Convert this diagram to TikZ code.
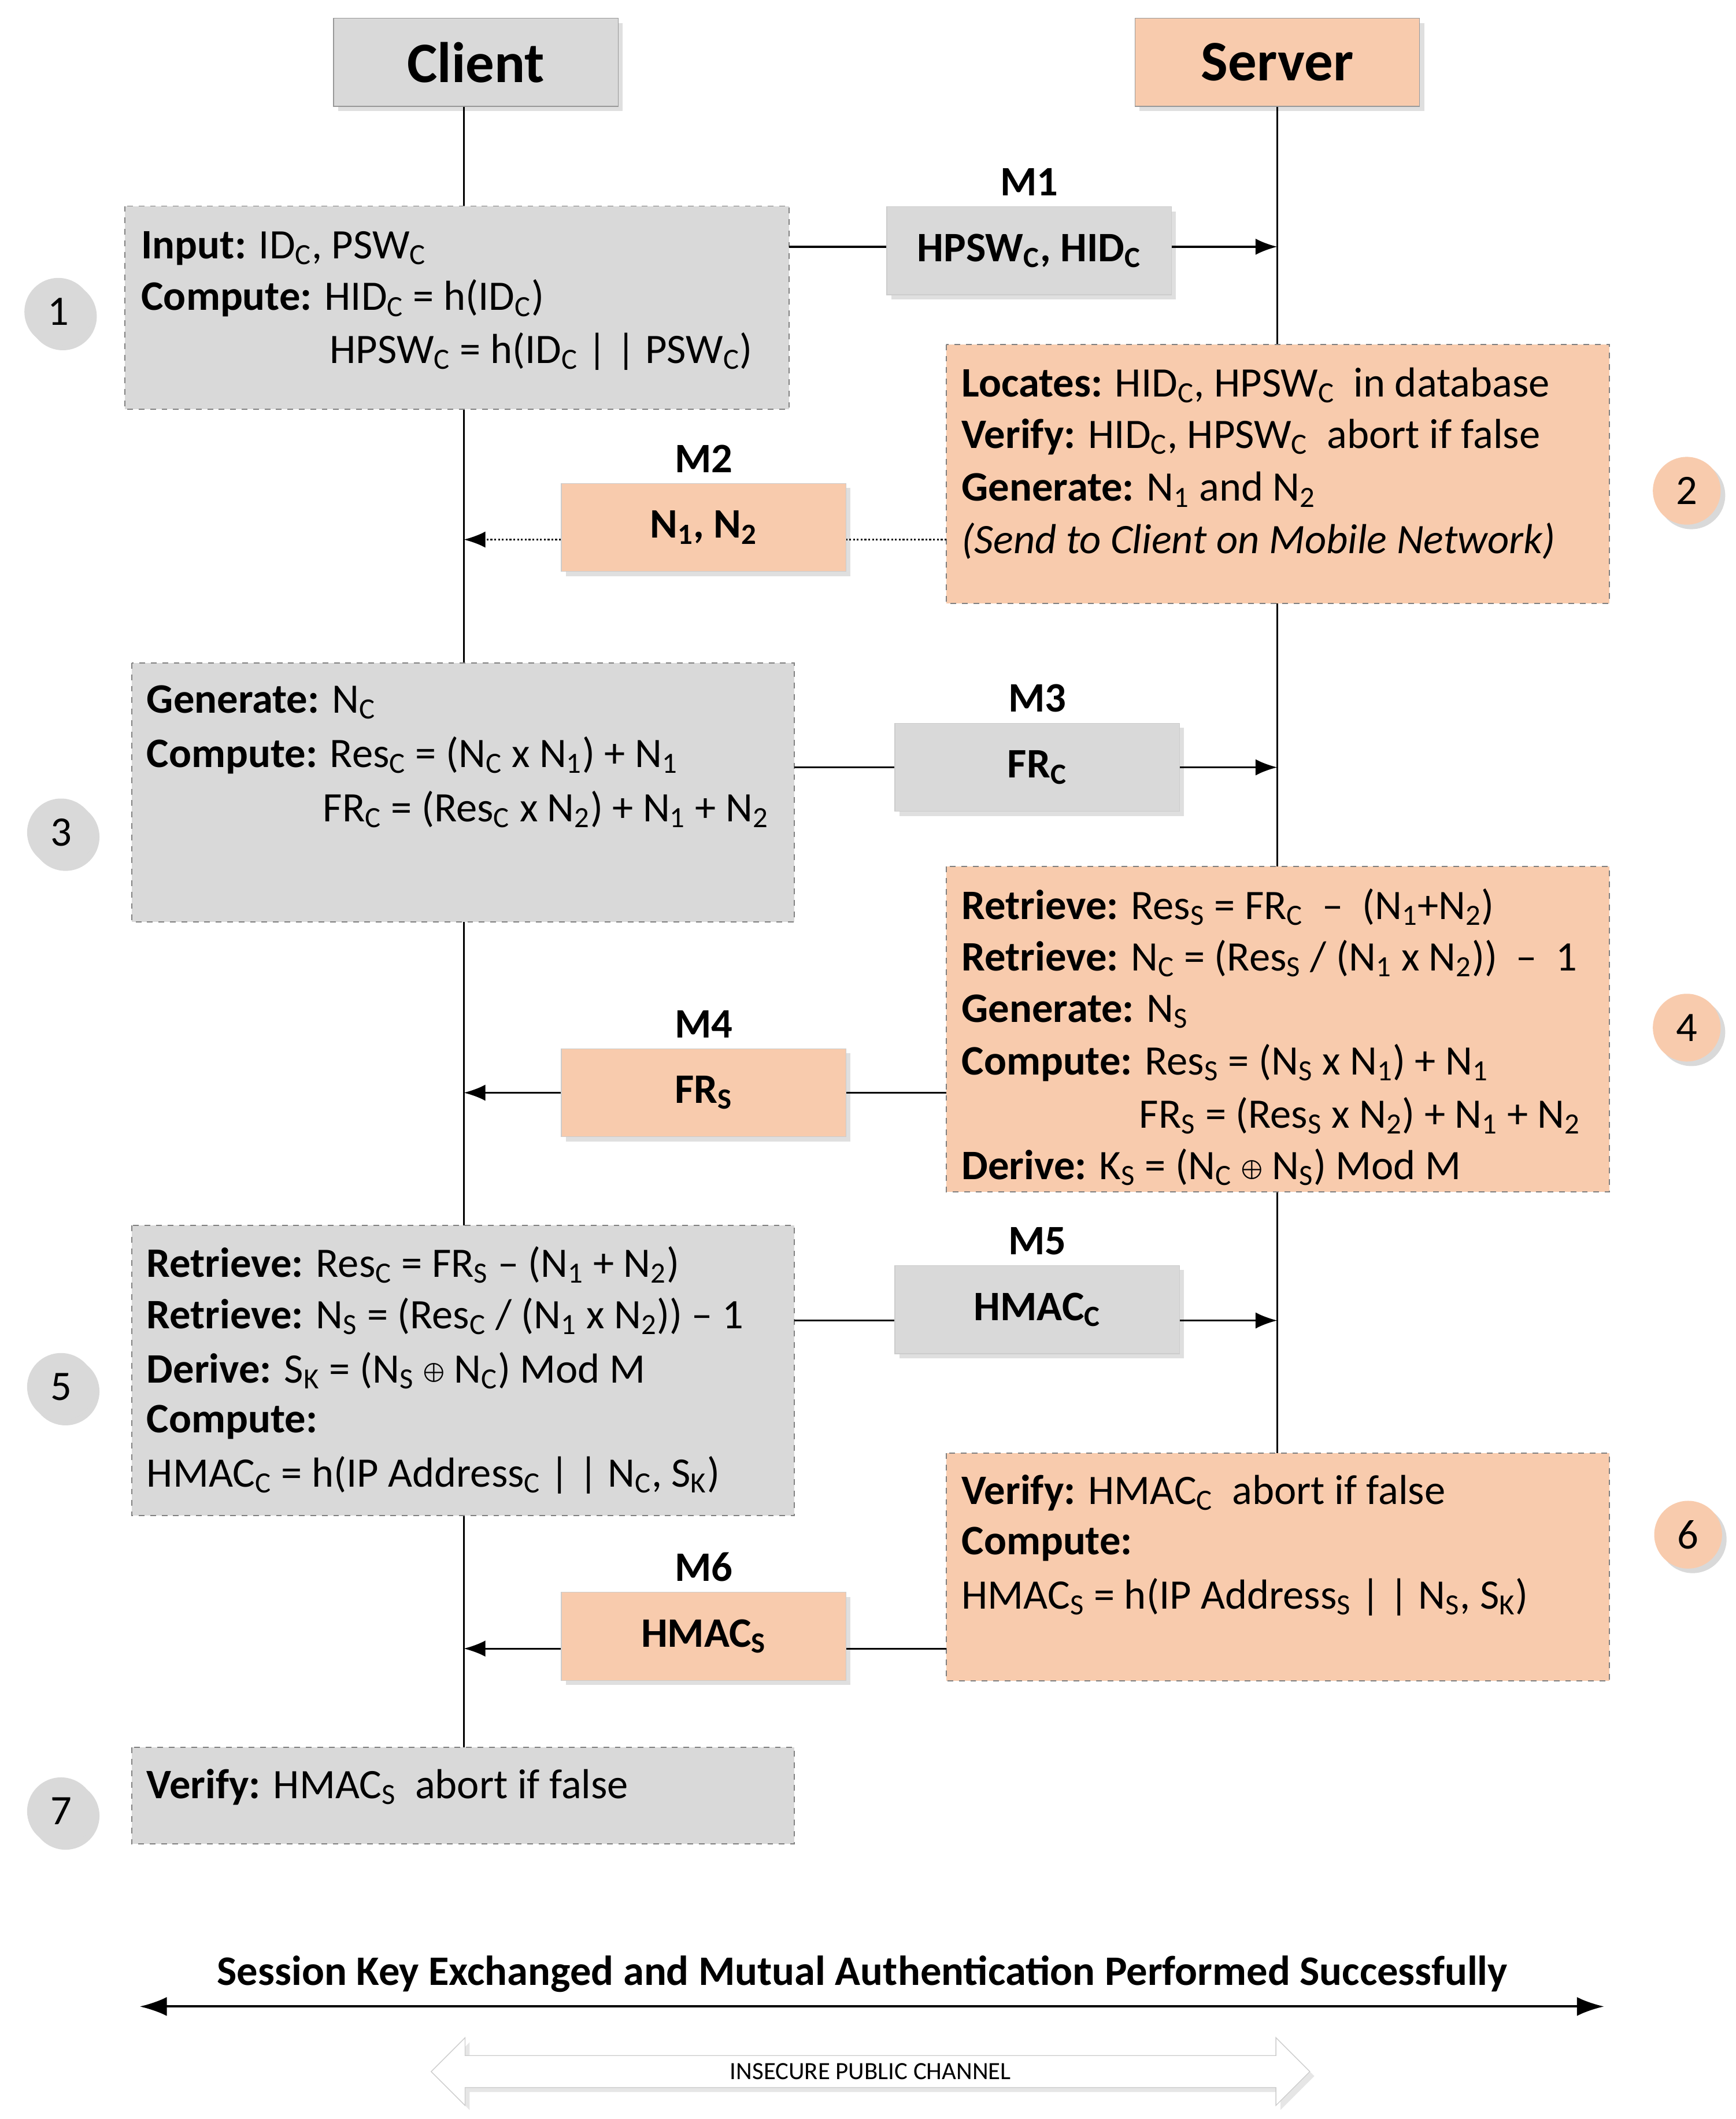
\documentclass[tikz,border=0pt]{standalone}
\usepackage{fontspec}
\setmainfont{Carlito}
\usetikzlibrary{shadows,arrows.meta,shapes.arrows,positioning}
\definecolor{cgray}{HTML}{D9D9D9}
\definecolor{speach}{HTML}{F8CBAD}
\newcommand\lo[1]{\textsubscript{#1}}
\begin{document}
\begin{tikzpicture}[
    x=0.025cm, y=-0.025cm,
    font=\fontsize{22}{26}\selectfont,
    head/.style={draw=cgray!70!black, line width=0.4pt, minimum width=210*0.025cm, minimum height=65*0.025cm,
        font=\fontsize{30}{34}\selectfont\bfseries\rmfamily, drop shadow={opacity=0.25}},
    stepbox/.style={draw=gray, dashed, line width=0.6pt},
    msg/.style={draw=gray!40, line width=0.4pt, minimum width=210*0.025cm, minimum height=65*0.025cm,
        font=\fontsize{22}{26}\selectfont\bfseries, drop shadow={opacity=0.25}},
    lab/.style={font=\fontsize{22}{26}\selectfont\bfseries},
    num/.style={circle, fill=cgray, minimum size=50*0.025cm, drop shadow={opacity=0.3}, font=\fontsize{22}{26}\selectfont},
    num2/.style={num, fill=speach},
    txt/.style={anchor=west, inner sep=0pt},
    arr/.style={line width=1pt, -{Latex[length=4mm, width=3mm]}},
    ln/.style={line width=1pt}
  ]
  \useasboundingbox (0,0) rectangle (1280,1563);

  % heads and lifelines
  \node[head, fill=cgray] (client) at (351,46) {Client};
  \node[head, fill=speach] (server) at (942,46) {Server};
  \coordinate (cend) at (342,1289);
  \coordinate (send) at (942,1072);
  \draw[ln] (342,79) -- (cend);
  \draw[ln] (942,79) -- (send);

  % step boxes
  \filldraw[stepbox, fill=cgray] (92,152) rectangle (582,302);
  \filldraw[stepbox, fill=speach] (698,254) rectangle (1187,445);
  \filldraw[stepbox, fill=cgray] (97,489) rectangle (586,680);
  \filldraw[stepbox, fill=speach] (698,639) rectangle (1187,879);
  \filldraw[stepbox, fill=cgray] (97,904) rectangle (586,1118);
  \filldraw[stepbox, fill=speach] (698,1072) rectangle (1187,1240);
  \filldraw[stepbox, fill=cgray] (97,1289) rectangle (586,1360);

  % step 1
  \node[txt] (t11) at (104,183) {\textbf{Input:} ID\lo{C}, PSW\lo{C}};
  \node[txt] (t12) at (104,220) {\textbf{Compute:} HID\lo{C} = h(ID\lo{C})};
  \node[txt] (t13) at (243,259) {HPSW\lo{C} = h(ID\lo{C} | | PSW\lo{C})};
  % step 2
  \node[txt] (t21) at (709,284) {\textbf{Locates:} HID\lo{C}, HPSW\lo{C} ~in database};
  \node[txt] (t22) at (709,322) {\textbf{Verify:} HID\lo{C}, HPSW\lo{C} ~abort if false};
  \node[txt] (t23) at (709,361) {\textbf{Generate:} N\lo{1} and N\lo{2}};
  \node[txt] (t24) at (709,399) {\textit{(Send to Client on Mobile Network)}};
  % step 3
  \node[txt] (t31) at (108,518) {\textbf{Generate:} N\lo{C}};
  \node[txt] (t32) at (108,557) {\textbf{Compute:} Res\lo{C} = (N\lo{C} x N\lo{1}) + N\lo{1}};
  \node[txt] (t33) at (238,597) {FR\lo{C} = (Res\lo{C} x N\lo{2}) + N\lo{1} + N\lo{2}};
  % step 4
  \node[txt] (t41) at (709,669) {\textbf{Retrieve:} Res\lo{S} = FR\lo{C} ~--~ (N\lo{1}+N\lo{2})};
  \node[txt] (t42) at (709,707) {\textbf{Retrieve:} N\lo{C} = (Res\lo{S} / (N\lo{1} x N\lo{2})) ~--~ 1};
  \node[txt] (t43) at (709,746) {\textbf{Generate:} N\lo{S}};
  \node[txt] (t44) at (709,784) {\textbf{Compute:} Res\lo{S} = (N\lo{S} x N\lo{1}) + N\lo{1}};
  \node[txt] (t45) at (840,823) {FR\lo{S} = (Res\lo{S} x N\lo{2}) + N\lo{1} + N\lo{2}};
  \node[txt] (t46) at (709,861) {\textbf{Derive:} K\lo{S} = (N\lo{C} $\bigoplus$ N\lo{S}) Mod M};
  % step 5
  \node[txt] (t51) at (108,933) {\textbf{Retrieve:} Res\lo{C} = FR\lo{S} -- (N\lo{1} + N\lo{2})};
  \node[txt] (t52) at (108,971) {\textbf{Retrieve:} N\lo{S} = (Res\lo{C} / (N\lo{1} x N\lo{2})) -- 1};
  \node[txt] (t53) at (108,1011) {\textbf{Derive:} S\lo{K} = (N\lo{S} $\bigoplus$ N\lo{C}) Mod M};
  \node[txt] (t54) at (108,1049) {\textbf{Compute:}};
  \node[txt] (t55) at (108,1088) {HMAC\lo{C} = h(IP Address\lo{C} | | N\lo{C}, S\lo{K})};
  % step 6
  \node[txt] (t61) at (709,1101) {\textbf{Verify:} HMAC\lo{C} ~abort if false};
  \node[txt] (t62) at (709,1139) {\textbf{Compute:}};
  \node[txt] (t63) at (709,1178) {HMAC\lo{S} = h(IP Address\lo{S} | | N\lo{S}, S\lo{K})};
  % step 7
  \node[txt] (t71) at (108,1318) {\textbf{Verify:} HMAC\lo{S} ~abort if false};

  % messages
  \node[msg, fill=cgray] (m1) at (759,185) {HPSW\lo{C}, HID\lo{C}};
  \node[lab, above=2pt of m1] {M1};
  \node[msg, fill=speach] (m2) at (519,389) {N\lo{1}, N\lo{2}};
  \node[lab, above=2pt of m2] {M2};
  \node[msg, fill=cgray] (m3) at (765,566) {FR\lo{C}};
  \node[lab, above=2pt of m3] {M3};
  \node[msg, fill=speach] (m4) at (519,806) {FR\lo{S}};
  \node[lab, above=2pt of m4] {M4};
  \node[msg, fill=cgray] (m5) at (765,966) {HMAC\lo{C}};
  \node[lab, above=2pt of m5] {M5};
  \node[msg, fill=speach] (m6) at (519,1207) {HMAC\lo{S}};
  \node[lab, above=2pt of m6] {M6};

  \draw[ln] (582,182) -- (m1.west |- 0,182);
  \draw[arr] (m1.east |- 0,182) -- (942,182);
  \draw[ln, densely dotted] (698,398) -- (m2.east |- 0,398);
  \draw[arr, densely dotted] (m2.west |- 0,398) -- (342,398);
  \draw[ln] (586,566) -- (m3.west);
  \draw[arr] (m3.east) -- (942,566);
  \draw[ln] (698,806) -- (m4.east);
  \draw[arr] (m4.west) -- (342,806);
  \draw[ln] (586,974) -- (m5.west |- 0,974);
  \draw[arr] (m5.east |- 0,974) -- (942,974);
  \draw[ln] (698,1216) -- (m6.east |- 0,1216);
  \draw[arr] (m6.west |- 0,1216) -- (342,1216);

  % step numbers
  \node[num] (n1) at (43,230) {1};
  \node[num2] (n2) at (1244,362) {2};
  \node[num] (n3) at (45,614) {3};
  \node[num2] (n4) at (1244,758) {4};
  \node[num] (n5) at (45,1023) {5};
  \node[num2] (n6) at (1245,1132) {6};
  \node[num] (n7) at (45,1336) {7};

  % bottom
  \node[lab] (done) at (636,1456) {Session Key Exchanged and Mutual Authentication Performed Successfully};
  \coordinate (bl) at (103,1480);
  \coordinate (br) at (1183,1480);
  \draw[line width=1.2pt, {Latex[length=5mm,width=3.5mm]}-{Latex[length=5mm,width=3.5mm]}] (bl) -- (br);
  \node[double arrow, draw=gray!40, fill=white, double arrow head extend=5pt,
        minimum width=50*0.025cm, minimum height=648*0.025cm, inner sep=0pt, drop shadow={opacity=0.2},
        font=\fontsize{13}{15}\selectfont] (chan) at (642,1528) {INSECURE PUBLIC CHANNEL};
\end{tikzpicture}
\end{document}
